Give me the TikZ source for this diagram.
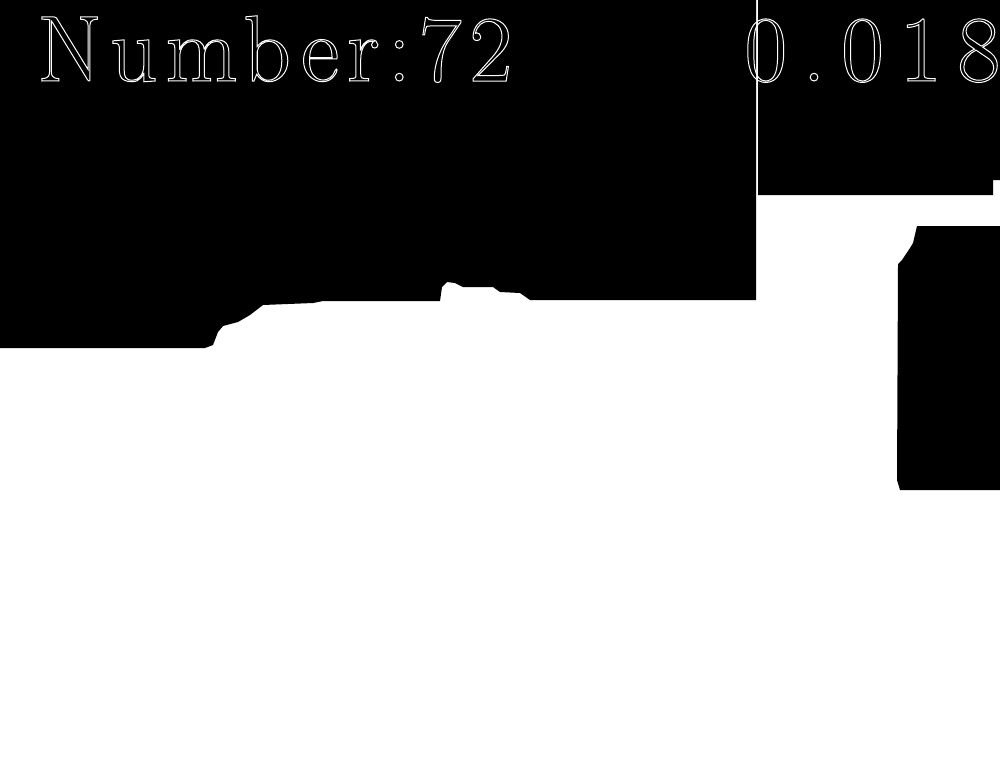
\documentclass[tikz,border=0pt]{standalone}
\usepackage{fontspec}
\setmainfont{Latin Modern Roman}
\newcommand\hollowtext[1]{\special{pdf:literal direct 1 Tr 1 w}#1\special{pdf:literal direct 0 Tr}}
\tikzset{
  mask/.style={fill=black,draw=none},
  lbl/.style={inner sep=0pt,anchor=base west,text=white,font=\fontsize{94}{94}\selectfont}
}
\begin{document}
\begin{tikzpicture}[x=1pt,y=-1pt]
\useasboundingbox (0,0) rectangle (1000,758);
\clip (0,0) rectangle (1000,758);
\fill[white] (0,0) rectangle (1000,758);
% upper left mask
\fill[mask] (0,0) -- (756,0) -- (756,300) -- (530,300) -- (520,293) -- (500,292) -- (493,287)
  -- (463,287) -- (455,283) -- (447,282) -- (442,287) -- (440,301) -- (323,301) -- (313,303)
  -- (263,305) -- (250,315) -- (238,322) -- (223,326) -- (218,332) -- (213,345) -- (205,348)
  -- (0,348) -- cycle;
% upper right mask
\fill[mask] (758,0) -- (1000,0) -- (1000,180) -- (993,180) -- (993,195) -- (758,195) -- cycle;
% right block
\fill[mask] (917,226) -- (1000,226) -- (1000,490) -- (900,490) -- (897,480) -- (898,264)
  -- (902,260) -- (910,248) -- (913,243) -- cycle;
% labels
\node[lbl] (num) at (37,81) {\addfontfeature{LetterSpace=8}\hollowtext{Number:72}};
\node[lbl] (val) at (744,81) {\addfontfeature{LetterSpace=16}\hollowtext{0.018}};
\end{tikzpicture}
\end{document}
